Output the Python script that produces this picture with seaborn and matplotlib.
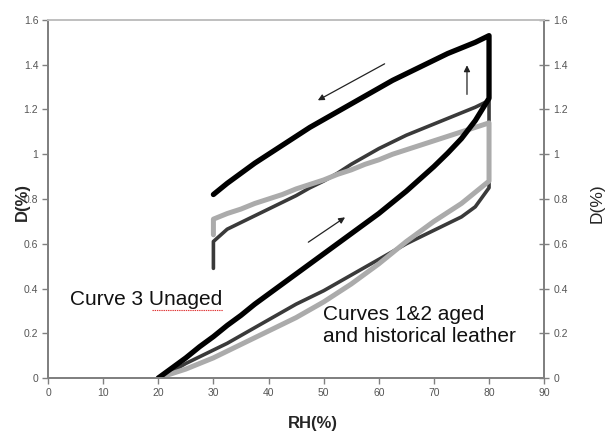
import matplotlib
matplotlib.use("Agg")
import matplotlib.pyplot as plt
import seaborn as sns
import pandas as pd

# hysteresis loops: RH (%) vs dimensional change D (%)
rh_up = [20, 22.5, 25, 27.5, 30, 32.5, 35, 37.5, 40, 42.5, 45, 47.5, 50,
         52.5, 55, 57.5, 60, 62.5, 65, 67.5, 70, 72.5, 75, 77.5, 80]
rh_down = [80, 77.5, 75, 72.5, 70, 67.5, 65, 62.5, 60, 57.5, 55, 52.5, 50,
           47.5, 45, 42.5, 40, 37.5, 35, 32.5, 30]

# curve 3, unaged (black)
c3_up = [0.0, 0.045, 0.09, 0.14, 0.185, 0.235, 0.28, 0.33, 0.375, 0.42, 0.465, 0.51, 0.555,
         0.60, 0.645, 0.69, 0.735, 0.785, 0.835, 0.89, 0.945, 1.005, 1.07, 1.15, 1.25]
c3_down = [1.53, 1.50, 1.475, 1.45, 1.42, 1.39, 1.36, 1.33, 1.295, 1.26, 1.225, 1.19, 1.155,
           1.12, 1.08, 1.04, 1.00, 0.96, 0.915, 0.87, 0.82]
c3_tail = []

# curve 1, aged (dark grey)
c1_up = [0.0, 0.03, 0.065, 0.095, 0.125, 0.155, 0.19, 0.225, 0.26, 0.295, 0.33, 0.36, 0.39,
         0.425, 0.46, 0.495, 0.53, 0.565, 0.60, 0.63, 0.66, 0.69, 0.72, 0.765, 0.85]
c1_down = [1.24, 1.21, 1.185, 1.16, 1.135, 1.11, 1.085, 1.055, 1.025, 0.99, 0.955, 0.915, 0.88,
           0.85, 0.815, 0.785, 0.755, 0.725, 0.695, 0.665, 0.61]
c1_tail = [0.49]

# curve 2, historical leather (light grey)
c2_up = [0.0, 0.02, 0.04, 0.065, 0.09, 0.12, 0.15, 0.18, 0.21, 0.24, 0.27, 0.305, 0.34,
         0.38, 0.42, 0.465, 0.51, 0.56, 0.61, 0.655, 0.70, 0.74, 0.78, 0.83, 0.88]
c2_down = [1.14, 1.12, 1.10, 1.08, 1.06, 1.04, 1.02, 1.00, 0.975, 0.955, 0.93, 0.91, 0.885,
           0.865, 0.845, 0.82, 0.80, 0.78, 0.755, 0.735, 0.71]
c2_tail = [0.64]

y_ticks = [0, 0.2, 0.4, 0.6, 0.8, 1.0, 1.2, 1.4, 1.6]
y_labels = ["0", "0.2", "0.4", "0.6", "0.8", "1", "1.2", "1.4", "1.6"]
x_ticks = [0, 10, 20, 30, 40, 50, 60, 70, 80, 90]

sns.set_theme(style="white")
plt.rcParams['font.family'] = ['Liberation Sans', 'DejaVu Sans']

fig = plt.figure(figsize=(6.08, 4.34), dpi=100)
ax = fig.add_axes([0.079, 0.129, 0.816, 0.825])

curves = [
    (c1_up, c1_down, c1_tail, "#3a3a3a", 2.6),
    (c2_up, c2_down, c2_tail, "#ababab", 3.6),
    (c3_up, c3_down, c3_tail, "#000000", 3.8),
]
for up, down, tail, color, lw in curves:
    df = pd.DataFrame({"RH": rh_up + rh_down + [30] * len(tail),
                       "D": up + down + tail})
    sns.lineplot(data=df, x="RH", y="D", sort=False, estimator=None, ax=ax,
                 color=color, lw=lw, solid_capstyle="round", solid_joinstyle="round")

ax.set_xlim(0, 90)
ax.set_ylim(0, 1.6)
ax.set_xticks(x_ticks)
ax.set_yticks(y_ticks)
ax.set_yticklabels(y_labels)
ax.set_xlabel("")
ax.set_ylabel("")
ax.tick_params(axis="both", which="both", direction="out", length=4, width=1,
               color="#808080", labelsize=7.5, labelcolor="#555555", pad=3,
               left=True, bottom=True)

ax2 = ax.twinx()
ax2.set_ylim(0, 1.6)
ax2.set_yticks(y_ticks)
ax2.set_yticklabels(y_labels)
ax2.tick_params(axis="y", direction="inout", length=7, width=1, color="#808080",
                labelsize=7.5, labelcolor="#555555", pad=3, right=True)
ax2.grid(False)

for a in (ax, ax2):
    for side in ["left", "right", "bottom"]:
        a.spines[side].set_color("#808080")
        a.spines[side].set_linewidth(1.3)
    a.spines["top"].set_color("#c0c0c0")
    a.spines["top"].set_linewidth(1.3)

# direction arrows
arrow = dict(arrowstyle="-|>", color="#222222", lw=0.9, mutation_scale=9)
ax.annotate("", xy=(48.5, 1.235), xytext=(61.5, 1.41), arrowprops=arrow)
ax.annotate("", xy=(76.0, 1.41), xytext=(76.0, 1.255), arrowprops=arrow)
ax.annotate("", xy=(54.3, 0.725), xytext=(46.8, 0.60), arrowprops=arrow)

ax.text(4.0, 0.35, "Curve 3 Unaged", fontsize=15, va="center", ha="left", color="#111111")
ax.plot([18.9, 31.8], [0.305, 0.305], color="#e03030", lw=0.8, ls=(0, (1.2, 0.8)))
ax.text(49.8, 0.235, "Curves 1&2 aged\nand historical leather", fontsize=15,
        va="center", ha="left", color="#111111", linespacing=1.15)

fig.text(0.515, 0.025, "RH(%)", fontsize=12, fontweight="bold", ha="center", va="center")
fig.text(0.036, 0.535, "D(%)", fontsize=12, fontweight="bold", rotation=90,
         ha="center", va="center")
fig.text(0.982, 0.532, "D(%)", fontsize=12.5, rotation=90, ha="center", va="center")

fig.savefig("out.png", dpi=100, facecolor="white")
